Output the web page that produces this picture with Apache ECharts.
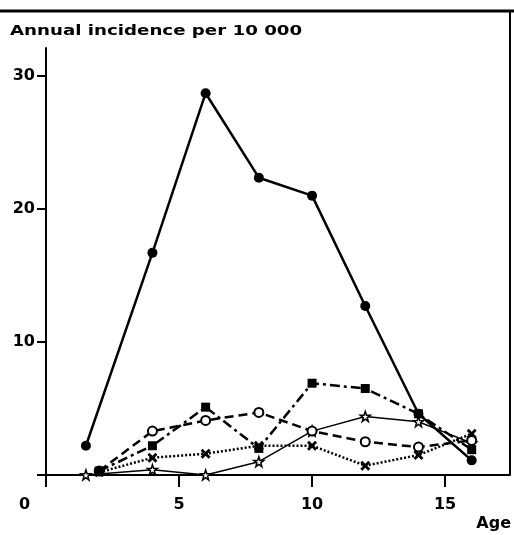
<!DOCTYPE html>
<html>
<head>
<meta charset="utf-8">
<script src="https://cdn.jsdelivr.net/npm/echarts@6/dist/echarts.min.js"></script>
<style>
html,body{margin:0;padding:0;background:#fff;}
#chart{width:514px;height:535px;}
</style>
</head>
<body>
<div id="chart"></div>
<script>
// ---- data ----
var agesMain = [1.5, 4, 6, 8, 10, 12, 14, 16];
var agesOther = [2, 4, 6, 8, 10, 12, 14, 16];
var agesStar = [1.5, 4, 6, 8, 10, 12, 14, 16];
var filledCircles = [2.2, 16.7, 28.7, 22.35, 21.0, 12.7, 4.6, 1.1];
var filledSquares = [0.3, 2.2, 5.1, 2.0, 6.9, 6.5, 4.6, 1.9];
var openCircles = [0.3, 3.3, 4.1, 4.7, 3.3, 2.5, 2.1, 2.6];
var crosses = [0.2, 1.3, 1.6, 2.2, 2.2, 0.7, 1.5, 3.1];
var stars = [0, 0.4, 0, 1.0, 3.3, 4.4, 4.0, 2.4];
var xTickValues = [0, 5, 10, 15];
var xLabelValues = [5, 10, 15];
var yTickValues = [0, 10, 20, 30];
var yLabelValues = [10, 20, 30];
var titleText = 'Annual incidence per 10 000';
var xName = 'Age';
var originLabel = '0';

function pairs(xs, ys) { return xs.map(function (x, i) { return [x, ys[i]]; }); }

var FONT = 'DejaVu Sans';
var starPath = 'path://M50,0 L61.8,35.1 L98.6,35.4 L69.1,57.3 L79.4,92.7 L50,71.5 L20.6,92.7 L30.9,57.3 L1.4,35.4 L38.2,35.1 Z';
var crossPath = 'path://M0,2 L2,0 L5,3 L8,0 L10,2 L7,5 L10,8 L8,10 L5,7 L2,10 L0,8 L3,5 Z';

var chart = echarts.init(document.getElementById('chart'), null, {renderer: 'canvas'});
chart.setOption({
  animation: false,
  backgroundColor: '#fff',
  grid: {left: 46, right: 4, top: 48, bottom: 60, containLabel: false},
  xAxis: {
    type: 'value', min: 0, max: 17.44,
    axisLine: {lineStyle: {color: '#000', width: 2}},
    axisTick: {show: true, inside: false, length: 12, customValues: xTickValues, lineStyle: {color: '#000', width: 2}},
    axisLabel: {customValues: xLabelValues, margin: 22, color: '#000', fontFamily: FONT, fontWeight: 'bold', fontSize: 16},
    splitLine: {show: false}
  },
  yAxis: {
    type: 'value', min: 0, max: 32.1,
    axisLine: {show: true, lineStyle: {color: '#000', width: 2}},
    axisTick: {show: true, inside: false, length: 9, customValues: yTickValues, lineStyle: {color: '#000', width: 2}},
    axisLabel: {customValues: yLabelValues, margin: 11, color: '#000', fontFamily: FONT, fontWeight: 'bold', fontSize: 16},
    splitLine: {show: false}
  },
  graphic: [
    {type: 'line', shape: {x1: 0, y1: 11, x2: 514, y2: 11}, style: {stroke: '#000', lineWidth: 3}},
    {type: 'line', shape: {x1: 510, y1: 11, x2: 510, y2: 475}, style: {stroke: '#000', lineWidth: 2}},
    {type: 'text', x: 10, y: 24, scaleX: 1.3, style: {text: titleText, font: 'bold 14px "DejaVu Sans"', fill: '#000', textVerticalAlign: 'top'}},
    {type: 'text', left: 19, top: 497, style: {text: originLabel, font: 'bold 16px "DejaVu Sans"', fill: '#000'}},
    {type: 'text', right: 3, top: 516, style: {text: xName, font: 'bold 16px "DejaVu Sans"', fill: '#000'}}
  ],
  series: [
    {
      type: 'line', data: pairs(agesStar, stars), symbol: starPath, symbolSize: 10,
      lineStyle: {color: '#000', width: 1.5, type: 'solid'},
      itemStyle: {color: '#fff', borderColor: '#000', borderWidth: 1.5}, z: 3
    },
    {
      type: 'line', data: pairs(agesOther, crosses), symbol: crossPath, symbolSize: 10,
      lineStyle: {color: '#000', width: 2.5, type: [2, 2]},
      itemStyle: {color: '#000'}, z: 4
    },
    {
      type: 'line', data: pairs(agesOther, openCircles), symbol: 'circle', symbolSize: 9,
      lineStyle: {color: '#000', width: 2.5, type: [9, 5]},
      itemStyle: {color: '#fff', borderColor: '#000', borderWidth: 2}, z: 5
    },
    {
      type: 'line', data: pairs(agesOther, filledSquares), symbol: 'rect', symbolSize: 9,
      lineStyle: {color: '#000', width: 2.5, type: [10, 4, 3, 4]},
      itemStyle: {color: '#000'}, z: 6
    },
    {
      type: 'line', data: pairs(agesMain, filledCircles), symbol: 'circle', symbolSize: 10,
      lineStyle: {color: '#000', width: 2.5},
      itemStyle: {color: '#000'}, z: 7
    }
  ]
});
</script>
</body>
</html>
